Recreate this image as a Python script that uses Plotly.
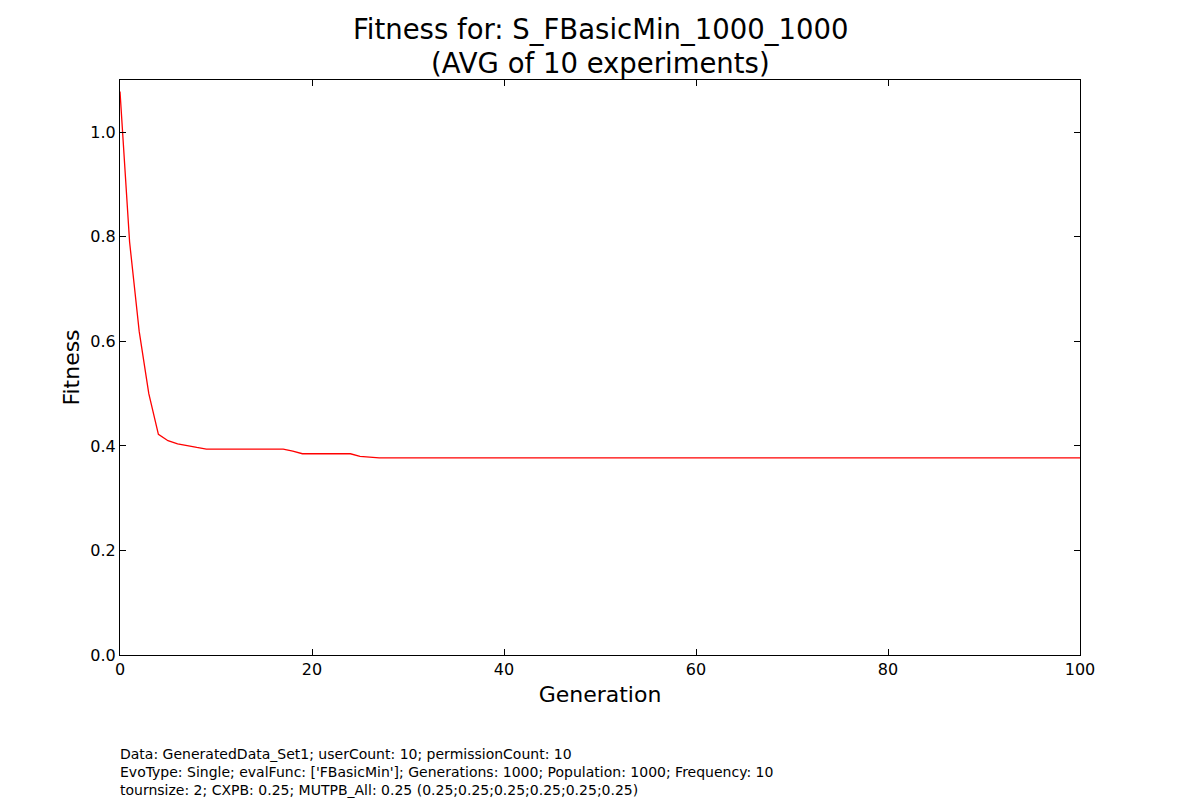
import plotly.graph_objects as go

generations = list(range(0, 101))
fitness = [
    1.078, 0.790, 0.619, 0.500, 0.422, 0.410, 0.404, 0.400, 0.397, 0.394,
    0.394, 0.394, 0.394, 0.394, 0.394, 0.394, 0.394, 0.394, 0.390, 0.385,
    0.385, 0.385, 0.385, 0.385, 0.385, 0.380, 0.378, 0.377, 0.377, 0.377,
    0.377, 0.377, 0.377, 0.377, 0.377, 0.377, 0.377, 0.377, 0.377, 0.377,
    0.377, 0.377, 0.377, 0.377, 0.377, 0.377, 0.377, 0.377, 0.377, 0.377,
    0.377, 0.377, 0.377, 0.377, 0.377, 0.377, 0.377, 0.377, 0.377, 0.377,
    0.377, 0.377, 0.377, 0.377, 0.377, 0.377, 0.377, 0.377, 0.377, 0.377,
    0.377, 0.377, 0.377, 0.377, 0.377, 0.377, 0.377, 0.377, 0.377, 0.377,
    0.377, 0.377, 0.377, 0.377, 0.377, 0.377, 0.377, 0.377, 0.377, 0.377,
    0.377, 0.377, 0.377, 0.377, 0.377, 0.377, 0.377, 0.377, 0.377, 0.377,
    0.377,
]
x_ticks = [0, 20, 40, 60, 80, 100]
y_ticks = [0.0, 0.2, 0.4, 0.6, 0.8, 1.0]
y_tick_labels = ["0.0", "0.2", "0.4", "0.6", "0.8", "1.0"]

title_lines = ["Fitness for: S_FBasicMin_1000_1000", "(AVG of 10 experiments)"]
footer_lines = [
    "Data: GeneratedData_Set1; userCount: 10; permissionCount: 10",
    "EvoType: Single; evalFunc: ['FBasicMin']; Generations: 1000; Population: 1000; Frequency: 10",
    "tournsize: 2; CXPB: 0.25; MUTPB_All: 0.25 (0.25;0.25;0.25;0.25;0.25;0.25)",
]

FONT = "DejaVu Sans"

fig = go.Figure()
fig.add_trace(go.Scatter(
    x=generations, y=fitness, mode="lines",
    line=dict(color="red", width=1.3), showlegend=False,
))

axis_common = dict(
    showline=True, linecolor="black", linewidth=1.2, mirror="ticks",
    ticks="inside", ticklen=6, tickcolor="black", tickwidth=1,
    showgrid=False, zeroline=False,
    tickfont=dict(family=FONT, size=16, color="black"),
)

fig.update_layout(
    width=1200, height=800,
    paper_bgcolor="white", plot_bgcolor="white",
    margin=dict(l=120, r=120, t=80, b=145),
    font=dict(family=FONT, color="black"),
    xaxis=dict(
        range=[0, 100], tickvals=x_ticks,
        title=dict(text="Generation", font=dict(family=FONT, size=22), standoff=8),
        **axis_common,
    ),
    yaxis=dict(
        range=[0, 1.1], tickvals=y_ticks, ticktext=y_tick_labels,
        title=dict(text="Fitness", font=dict(family=FONT, size=22), standoff=4),
        **axis_common,
    ),
)

title_y = [1.087, 1.0296]
for line, yy in zip(title_lines, title_y):
    fig.add_annotation(
        text=line, xref="paper", yref="paper", x=0.5, y=yy,
        xanchor="center", yanchor="middle", showarrow=False,
        font=dict(family=FONT, size=27.5, color="black"),
    )

fig.add_annotation(
    text="<br>".join(footer_lines),
    xref="paper", yref="paper", x=0, y=-0.155, xshift=-2,
    xanchor="left", yanchor="top", align="left", showarrow=False,
    font=dict(family=FONT, size=14, color="black"),
)

fig.write_html(
    "out.html",
    config={"displayModeBar": False},
    post_script="document.body.style.margin='0';",
)
